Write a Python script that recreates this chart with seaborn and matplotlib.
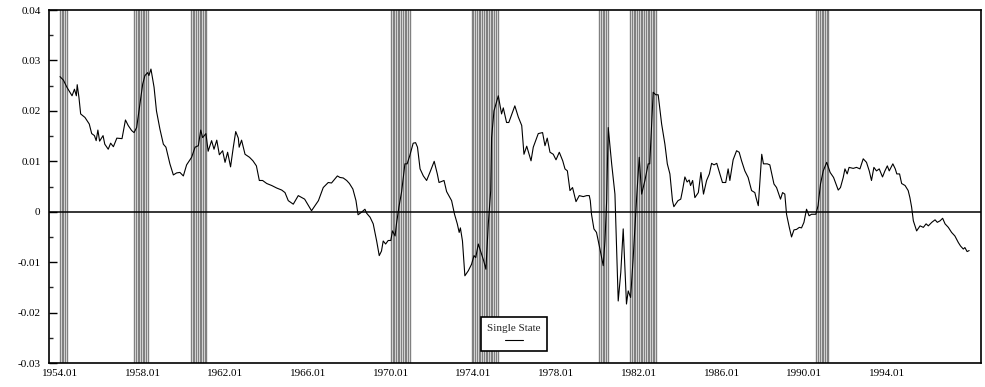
import numpy as np
import pandas as pd
import matplotlib
matplotlib.use("Agg")
import matplotlib.pyplot as plt
import seaborn as sns

# ---------------- data (month index: 0 = 1954.01) ----------------
months_1954 = [0, 2, 4, 7, 8.4, 9.5, 10, 11, 12, 14.5, 17, 18.4, 20, 21, 22, 23, 25, 26, 28, 29.4,
               31, 33, 36, 38, 39.6, 41.6, 43, 44.5, 46.4, 48, 49.3, 50.9, 51.6, 52.8, 54.6, 56, 58,
               60, 61.5, 63.8, 65.8, 67.7, 69.6, 71.6, 73.5, 76.4, 78.4, 80.3, 81.7, 82.8, 84.7, 86,
               88, 89.4, 91, 92.5, 94.4, 95.8, 97.3, 99, 100.6, 102, 103.5, 104, 105.4, 107.4, 110,
               112, 114, 115.7, 117.6]
values_1954 = [0.0268, 0.0261, 0.0247, 0.0230, 0.0243, 0.0230, 0.0252, 0.0227, 0.0194, 0.0187,
               0.0174, 0.0155, 0.0151, 0.0141, 0.0162, 0.0140, 0.0151, 0.0134, 0.0124, 0.0136,
               0.0129, 0.0146, 0.0145, 0.0182, 0.0171, 0.0161, 0.0157, 0.0167, 0.0214, 0.0253,
               0.0270, 0.0276, 0.0270, 0.0283, 0.0247, 0.0200, 0.0164, 0.0134, 0.0128, 0.0095,
               0.0073, 0.0077, 0.0078, 0.0071, 0.0093, 0.0108, 0.0128, 0.0131, 0.0162, 0.0147,
               0.0155, 0.0120, 0.0141, 0.0124, 0.0142, 0.0113, 0.0121, 0.0098, 0.0118, 0.0089,
               0.0128, 0.0159, 0.0146, 0.0128, 0.0142, 0.0114, 0.0108, 0.0101, 0.0091, 0.0062,
               0.0062]

months_1964 = [120, 122.9, 125.8, 128.7, 130.6, 132.5, 135.4, 138.3, 142, 146, 150, 152.8, 155.7,
               157.6, 161, 162.5, 164.4, 166.4, 168, 170, 171.8, 173, 175, 177, 178, 180, 181.8,
               183.8, 185.3, 186.6, 187.6, 189, 190.5, 192, 193, 194.5, 195.3, 196.7, 198.3, 200.2,
               201.5, 203, 205, 206.4, 207.5, 209, 210.9, 212.8, 214.7, 217.2, 219, 220, 222.9,
               224.4, 227.3, 229, 230.6, 231.7, 232.4, 233.6, 235, 237, 238.9]
values_1964 = [0.0056, 0.0052, 0.0047, 0.0043, 0.0038, 0.0022, 0.0015, 0.0032, 0.0025, 0.0002,
               0.0022, 0.0048, 0.0058, 0.0057, 0.0071, 0.0068, 0.0067, 0.0062, 0.0056, 0.0045,
               0.0022, -0.0006, -0.0001, 0.0005, -0.0003, -0.0011, -0.0024, -0.0058, -0.0087,
               -0.0078, -0.0058, -0.0064, -0.0057, -0.0057, -0.0038, -0.0048, -0.0024, 0.0009,
               0.0040, 0.0095, 0.0095, 0.0111, 0.0136, 0.0137, 0.0128, 0.0085, 0.0071, 0.0062,
               0.0078, 0.0100, 0.0075, 0.0058, 0.0062, 0.0040, 0.0022, -0.0005, -0.0024, -0.0041,
               -0.0032, -0.0058, -0.0127, -0.0117, -0.0104]

months_1974 = [240.3, 241.3, 242.8, 244.4, 245.9, 247.2, 248.6, 250, 250.5, 251.9, 254.4, 256.3,
               257.3, 259.2, 260.5, 264, 266, 268, 269.3, 270.9, 273.4, 274.7, 277.6, 280.1, 281.5,
               282.8, 284.4, 286.3, 287.9, 289.8, 291.8, 293.1, 294.5, 296, 297.5, 299.5, 301.4,
               303.7, 305.7, 307.2, 307.8, 308.5, 309.9, 311.4, 313.4, 315.3, 316.3, 317.3, 318.2,
               320.2, 322.1, 324, 325.5, 326.9, 328.8, 329.8, 331.2, 332.7, 334.7, 336.2, 337.6,
               339.5, 341.4, 342.3, 344.3, 345.8, 347.2, 349.2, 351.1, 352.5, 354, 355.5, 356.3,
               358.7]
values_1974 = [-0.0087, -0.0091, -0.0064, -0.0081, -0.0097, -0.0114, -0.0024, 0.0042, 0.0147,
               0.0200, 0.0230, 0.0194, 0.0206, 0.0177, 0.0177, 0.0210, 0.0188, 0.0171, 0.0114,
               0.0130, 0.0101, 0.0128, 0.0155, 0.0157, 0.0131, 0.0146, 0.0118, 0.0114, 0.0103,
               0.0118, 0.0101, 0.0085, 0.0081, 0.0042, 0.0048, 0.0020, 0.0032, 0.0030, 0.0032,
               0.0032, 0.0022, -0.0005, -0.0034, -0.0041, -0.0074, -0.0107, -0.0058, 0.0022,
               0.0167, 0.0095, 0.0035, -0.0177, -0.0120, -0.0034, -0.0183, -0.0157, -0.0170,
               -0.0091, 0.0028, 0.0108, 0.0035, 0.0062, 0.0095, 0.0095, 0.0237, 0.0232, 0.0232,
               0.0174, 0.0134, 0.0095, 0.0075, 0.0022, 0.0010, 0.0022]

months_1984 = [360.3, 361.3, 362.7, 364, 365.2, 366, 367.2, 368.5, 370.5, 372, 373.5, 375.3, 376.9,
               378.2, 379.6, 381.2, 383, 384.5, 386.4, 387.8, 388.8, 390.7, 392.7, 394.2, 395.6,
               397.5, 399.4, 401.4, 403.3, 404, 405.3, 407.3, 408.3, 410.5, 412, 414.4, 415.9,
               418.2, 419.4, 420.7, 421.7, 423.3, 424.6, 426, 427.5, 429.1, 430.4, 431.8, 433.3,
               434.8, 436.2, 438.7, 440, 441.4, 443, 445, 447, 449, 451.7, 453, 454.6, 455.6,
               456.9, 458, 460.4, 462.3, 464.3, 466.2, 468.1, 469.7, 471, 472.4, 473.9, 475.5,
               477.4, 478.8, 480.2, 481.3, 483.4, 484.8, 485.7, 487.3, 488.5, 490.5, 492.3, 493.3,
               494.3, 495.3, 497.2, 499.2, 501.1, 502.7, 504, 506, 507.9, 509.2, 510.8, 512.3,
               513.7, 515.6, 517.5, 519.4, 521.4, 522.7, 524.3, 525.2, 526.5, 527.7]
values_1984 = [0.0025, 0.0042, 0.0069, 0.0059, 0.0063, 0.0052, 0.0062, 0.0028, 0.0038, 0.0078,
               0.0035, 0.0062, 0.0075, 0.0096, 0.0093, 0.0096, 0.0075, 0.0058, 0.0058, 0.0085,
               0.0062, 0.0103, 0.0121, 0.0118, 0.0101, 0.0081, 0.0068, 0.0042, 0.0038, 0.0028,
               0.0012, 0.0114, 0.0095, 0.0095, 0.0093, 0.0055, 0.0048, 0.0025, 0.0038, 0.0035,
               -0.0005, -0.0031, -0.0050, -0.0036, -0.0035, -0.0031, -0.0032, -0.0021, 0.0005,
               -0.0008, -0.0005, -0.0005, 0.0012, 0.0055, 0.0081, 0.0098, 0.0078, 0.0068, 0.0043,
               0.0048, 0.0068, 0.0085, 0.0075, 0.0088, 0.0086, 0.0088, 0.0085, 0.0105, 0.0098,
               0.0081, 0.0062, 0.0088, 0.0081, 0.0085, 0.0069, 0.0081, 0.0091, 0.0081, 0.0095,
               0.0085, 0.0075, 0.0075, 0.0056, 0.0052, 0.0042, 0.0028, 0.0009, -0.0018, -0.0038,
               -0.0028, -0.0031, -0.0024, -0.0028, -0.0021, -0.0016, -0.0021, -0.0018, -0.0013,
               -0.0024, -0.0031, -0.0041, -0.0048, -0.0061, -0.0068, -0.0074, -0.0071, -0.0079,
               -0.0077]

# recession months (start, end), month index
recession_periods = [(0, 4), (43, 51), (76, 85), (192, 203), (239, 254), (313, 318), (331, 346),
                     (439, 446)]

x_tick_months = [0, 48, 96, 144, 192, 240, 288, 336, 384, 432, 480]
x_tick_labels = ["1954.01", "1958.01", "1962.01", "1966.01", "1970.01", "1974.01", "1978.01",
                 "1982.01", "1986.01", "1990.01", "1994.01"]
y_ticks = [-0.03, -0.02, -0.01, 0.0, 0.01, 0.02, 0.03, 0.04]
y_tick_labels = ["-0.03", "-0.02", "-0.01", "0", "0.01", "0.02", "0.03", "0.04"]
legend_label = "Single State"

# ---------------- plot ----------------
sns.set_theme(style="white")
plt.rcParams["font.family"] = ["Liberation Serif", "DejaVu Serif"]

df = pd.DataFrame({
    "month": months_1954 + months_1964 + months_1974 + months_1984,
    "value": values_1954 + values_1964 + values_1974 + values_1984,
})

fig = plt.figure(figsize=(9.85, 3.87), dpi=100)
ax = fig.add_axes([0.0497, 0.062, 0.9463, 0.912])

for start, end in recession_periods:
    for m in range(start, end + 1):
        ax.axvline(m, color="#808080", lw=1.0, antialiased=True, zorder=1)

ax.axhline(0, color="black", lw=1.1, zorder=2)

sns.lineplot(data=df, x="month", y="value", color="black", lw=0.8, ax=ax,
             estimator=None, sort=False, label=legend_label, zorder=3)

ax.set_xlim(-6.4, 534.6)
ax.set_ylim(-0.03, 0.04)
ax.set_xticks(x_tick_months)
ax.set_xticklabels(x_tick_labels)
ax.set_yticks(y_ticks)
ax.set_yticklabels(y_tick_labels)
ax.set_yticks(np.arange(-0.025, 0.04, 0.01), minor=True)
ax.tick_params(axis="x", length=0, labelsize=8, pad=4, colors="black")
ax.tick_params(axis="y", which="major", direction="in", length=6, width=1, labelsize=8,
               colors="black", pad=6, left=True)
ax.tick_params(axis="y", which="minor", direction="in", length=3, width=1, left=True)
ax.set_xlabel("")
ax.set_ylabel("")
for s in ax.spines.values():
    s.set_color("black")
    s.set_linewidth(1.2)

line = ax.lines[-1]
leg = ax.legend(handles=[line], labels=[""], title=legend_label,
                loc="lower left", bbox_to_anchor=(0.4635, 0.034), borderaxespad=0,
                fancybox=False, framealpha=1, edgecolor="black", handlelength=2.1,
                handletextpad=0, borderpad=0.75, title_fontsize=8, fontsize=6,
                alignment="center")
leg.get_frame().set_linewidth(1.2)
leg.set_zorder(5)

fig.savefig("out.png", dpi=100, facecolor="white")
